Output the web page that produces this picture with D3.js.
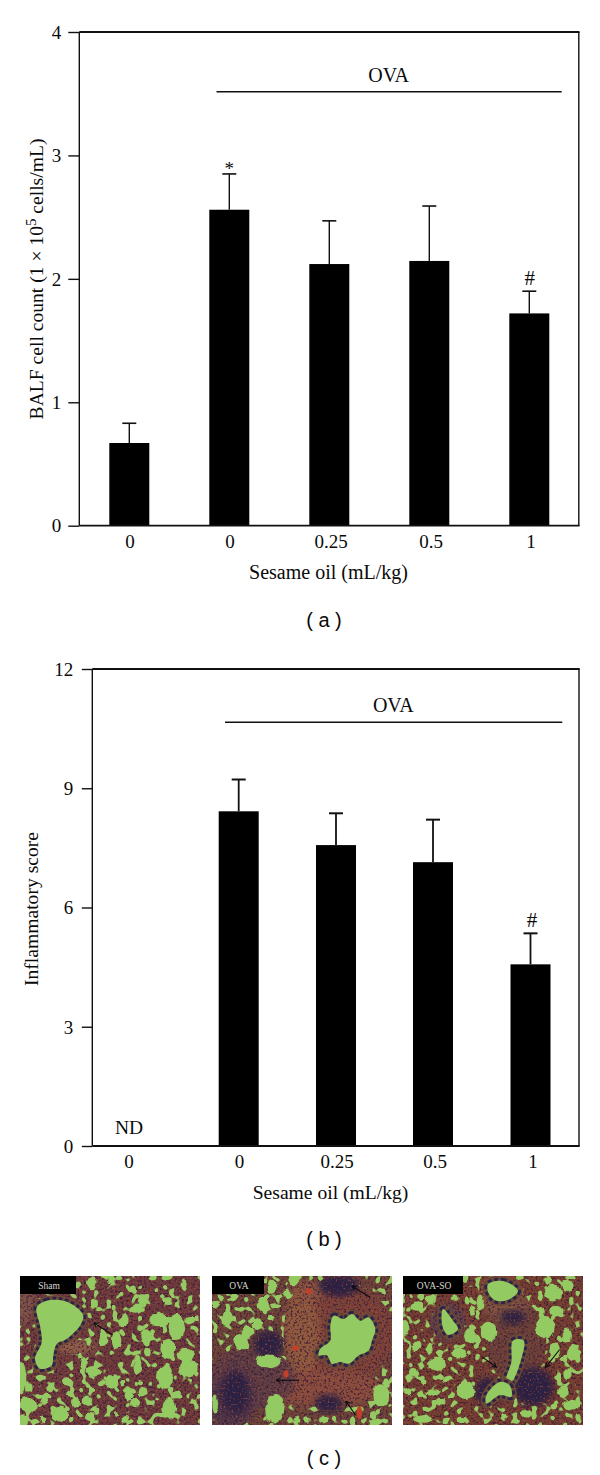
<!DOCTYPE html>
<html><head><meta charset="utf-8">
<script src="https://cdnjs.cloudflare.com/ajax/libs/d3/7.8.5/d3.min.js"></script>
<style>html,body{margin:0;padding:0;background:#fff}svg{display:block}text{font-family:"Liberation Serif",serif;fill:#0a0a0a}</style>
</head><body><svg id="c" width="600" height="1475"></svg>
<script>
// ---- chart data ----
const categories = ["0", "0", "0.25", "0.5", "1"];
const balfValues = [0.67, 2.56, 2.12, 2.145, 1.72];
const balfErrors = [0.16, 0.29, 0.35, 0.445, 0.18];
const balfMarks = ["", "*", "", "", "#"];
const balfTicks = [0, 1, 2, 3, 4];
const scoreValues = [null, 8.42, 7.57, 7.14, 4.57];
const scoreErrors = [null, 0.80, 0.80, 1.07, 0.78];
const scoreMarks = ["ND", "", "", "", "#"];
const scoreTicks = [0, 3, 6, 9, 12];
const groupLabel = "OVA";
const xTitle = "Sesame oil (mL/kg)";
const scoreTitle = "Inflammatory score";
const photoLabels = ["Sham", "OVA", "OVA-SO"];
// ---- micrograph features (in a 540x450 crop space) ----
const shamPores = [[215,22,14,18],[275,10,10,10],[398,5,12,8],[340,40,8,14],[222,85,12,14],[282,97,8,10],[350,100,22,14],[368,75,14,18],[312,135,14,20],[420,132,32,20],[470,155,24,38],[510,135,14,14],[380,185,16,22],[445,220,24,30],[498,240,24,20],[505,280,28,24],[435,305,24,38],[290,195,14,28],[250,190,12,18],[382,230,10,16],[190,265,10,20],[218,290,22,18],[275,318,18,22],[142,320,14,14],[90,335,8,16],[25,390,26,22],[72,378,12,14],[120,418,24,24],[165,380,12,18],[203,375,10,14],[212,428,14,14],[230,410,8,12],[325,360,14,16],[345,385,12,14],[368,350,12,14],[358,322,8,8],[448,400,24,32],[315,430,10,10],[5,310,14,48],[12,435,14,14],[70,432,8,10],[28,338,10,14],[205,330,8,8],[150,355,8,8],[250,320,8,8],[352,268,12,28],[310,325,8,8],[470,355,10,8],[520,378,8,8],[492,30,8,8],[443,72,12,8],[472,88,8,10],[285,420,6,6],[412,370,6,6],[180,240,6,8],[210,200,8,10]];
const ovaPores = [[245,12,16,16],[180,32,16,22],[155,85,18,24],[108,170,16,20],[85,198,20,26],[135,145,16,18],[45,130,18,20],[15,85,12,10],[60,70,14,8],[225,55,12,14],[190,90,14,8],[175,125,10,8],[170,258,36,18],[188,400,26,46],[508,360,24,36],[485,420,8,12],[335,435,14,10],[255,432,10,8],[490,440,20,10],[525,325,8,12],[8,385,10,30],[285,435,8,8],[400,440,10,6]];
const soPores = [[450,50,24,24],[492,30,20,18],[435,15,14,12],[460,105,22,14],[425,155,30,32],[490,180,14,24],[455,225,16,24],[510,235,18,22],[495,295,14,16],[480,350,14,22],[505,390,24,16],[450,390,10,10],[415,110,10,20],[200,180,20,22],[258,168,22,30],[5,160,14,24],[42,92,20,16],[85,70,14,12],[160,65,10,10],[230,80,12,24],[208,108,10,14],[190,75,8,14],[80,220,12,18],[38,210,14,14],[170,232,22,16],[102,265,24,22],[30,290,12,12],[188,345,24,26],[90,352,20,10],[115,378,12,10],[60,430,26,16],[175,435,14,10],[130,435,10,10],[15,350,12,10],[50,358,8,8],[370,415,14,12],[305,425,10,8],[525,430,8,10],[130,310,10,10],[65,320,8,10],[220,210,8,10],[15,100,8,8]];
const shamAirways = [[[50,95],[80,75],[130,75],[170,95],[190,120],[180,150],[140,190],[110,205],[100,240],[95,270],[60,280],[45,250],[65,200],[60,150]]];
const ovaAirways = [[[355,150],[365,120],[395,130],[420,115],[445,135],[470,125],[490,160],[480,195],[470,225],[440,240],[410,265],[385,260],[360,265],[345,240],[320,240],[325,220],[355,195]]];
const soAirways = [[[255,25],[300,15],[345,45],[320,70],[280,75],[258,55]],[[120,100],[150,135],[165,160],[135,178],[118,150]],[[330,195],[362,195],[355,250],[325,320],[310,315],[325,260]],[[290,320],[320,330],[325,365],[290,360],[250,385],[250,360]]];
const shamTissue = [[5,60,40,90,"#7d5248"],[170,215,60,22,"#8f6048"]];
const ovaTissue = [[380,175,165,155,"#7c4238"],[270,180,55,140,"#8f5a3e"],[330,340,190,55,"#8a4e3c"],[120,310,130,90,"#5e3c45"],[60,380,70,80,"#50364a"],[290,45,50,30,"#8e5740"]];
const soTissue = [[340,200,90,125,"#6a4138"],[310,90,70,50,"#7a5040"],[290,45,62,45,"#8c5a3e"],[135,140,50,55,"#58404e"]];
const ovaDark = [[170,205,45,40],[70,350,42,65],[350,385,42,28],[380,30,62,32]];
const soDark = [[390,335,62,58],[255,350,40,42],[330,125,38,22]];
const shamArrows = [[278,178,222,142]];
const ovaArrows = [[475,65,420,30],[260,315,193,315],[430,420,402,378]];
const soArrows = [[238,245,280,275],[470,222,428,275]];
const redSpots = [[290,46,9,9],[222,296,8,11],[442,412,8,20],[250,218,10,8]];

const svg = d3.select("#c");
const defs = svg.append("defs");

function panel(o){
  const y = d3.scaleLinear().domain(o.yDomain).range([o.bottom, o.top]);
  const x = d3.scaleOrdinal().domain(d3.range(categories.length)).range(o.centers);
  const g = svg.append("g");
  g.append("line").attr("x1",o.right).attr("x2",o.right).attr("y1",o.top).attr("y2",o.bottom).attr("stroke","#111").attr("stroke-width",1.4);
  const w = 40;
  o.values.forEach((v,i)=>{
    if(v===null) return;
    const cx = x(i), top = y(v+o.errors[i]);
    g.append("rect").attr("x",cx-w/2).attr("width",w).attr("y",y(v)).attr("height",o.bottom-y(v)).attr("fill","#000");
    g.append("line").attr("x1",cx).attr("x2",cx).attr("y1",top).attr("y2",y(v)).attr("stroke","#111").attr("stroke-width",o.stem);
    g.append("line").attr("x1",cx-7).attr("x2",cx+7).attr("y1",top).attr("y2",top).attr("stroke","#111").attr("stroke-width",o.cap);
  });
  const ax = g.append("g").attr("transform",`translate(${o.left},0)`).call(d3.axisLeft(y).tickValues(o.ticks).tickFormat(d3.format("d")).tickSize(o.tick).tickPadding(6));
  ax.select(".domain").attr("d",`M0,${o.top}V${o.bottom}`).attr("stroke","#111").attr("stroke-width",1.4);
  ax.selectAll(".tick line").attr("stroke","#111").attr("stroke-width",1.4);
  ax.selectAll(".tick text").attr("font-size",o.fy).attr("font-family","Liberation Serif").attr("fill","#0a0a0a").attr("x",-o.gap).attr("dy","0.33em");
  [o.top,o.bottom].forEach((yy,k)=>g.append("line").attr("x1",o.left).attr("x2",o.right+0.7).attr("y1",yy).attr("y2",yy).attr("stroke","#111").attr("stroke-width",k?1.8:2));
  categories.forEach((c,i)=>g.append("text").attr("x",o.labelX[i]).attr("y",o.xBase).attr("text-anchor","middle").attr("font-size",o.fx).text(c));
  g.append("text").attr("x",o.titleX).attr("y",o.titleBase).attr("text-anchor","middle").attr("font-size",o.ft).text(xTitle);
  g.append("line").attr("x1",o.ovaX[0]).attr("x2",o.ovaX[1]).attr("y1",o.ovaY).attr("y2",o.ovaY).attr("stroke","#111").attr("stroke-width",1.6);
  g.append("text").attr("x",o.ovaText).attr("y",o.ovaY-10).attr("text-anchor","middle").attr("font-size",o.fo).text(groupLabel);
  o.marks.forEach((m,i)=>{
    if(!m) return;
    const base = m==="ND" ? o.bottom-12 : y(o.values[i]+o.errors[i]) + (m==="*"?1:-6);
    g.append("text").attr("x",x(i)+(m==="#"?o.hashDx:0)).attr("y",base).attr("text-anchor","middle").attr("font-size",m==="ND"?19.5:m==="#"?21:19).text(m);
  });
  g.append("text").attr("x",324).attr("y",o.capBase).attr("text-anchor","middle").attr("font-size",20).style("font-family","'Liberation Sans',sans-serif").text(o.caption);
  return g;
}

const a = panel({values:balfValues,errors:balfErrors,marks:balfMarks,ticks:balfTicks,yDomain:[0,4],
  top:32,bottom:525.7,left:79.3,right:578.8,tick:11,gap:18,centers:[129.3,229.3,329.3,429.3,529.3],labelX:[130,230,331,431,531],
  xBase:548,titleX:328.5,titleBase:579,ovaX:[216.5,561.7],ovaY:91.7,ovaText:388.7,stem:1.4,cap:1.6,hashDx:0.5,
  fx:19,fy:19,ft:20,fo:20,capBase:627,caption:"( a )"});
const b = panel({values:scoreValues,errors:scoreErrors,marks:scoreMarks,ticks:scoreTicks,yDomain:[0,12],
  top:669,bottom:1146,left:92.3,right:579,tick:10.5,gap:19,centers:[129,238.7,336,433,530.5],labelX:[129,239.5,337,435,533],
  xBase:1168,titleX:330.5,titleBase:1199,ovaX:[225,562.3],ovaY:722.3,ovaText:393.3,stem:1.8,cap:2,hashDx:1.5,
  fx:19,fy:19,ft:19.6,fo:20,capBase:1246,caption:"( b )"});

const yTitleA = a.append("text").attr("transform","translate(43,279) rotate(-90)").attr("text-anchor","middle").attr("font-size",19.6);
yTitleA.append("tspan").text("BALF cell count (1 × 10");
yTitleA.append("tspan").attr("dy",-7).attr("font-size",15).text("5");
yTitleA.append("tspan").attr("dy",7).text(" cells/mL)");
b.append("text").attr("transform","translate(38,909) rotate(-90)").attr("text-anchor","middle").attr("font-size",19.6).text(scoreTitle);

// ---- micrographs ----
function noiseFilter(id,freq,seed,rgb,k,off,oct){
  const f = defs.append("filter").attr("id",id).attr("x",0).attr("y",0).attr("width",1).attr("height",1).attr("color-interpolation-filters","sRGB");
  f.append("feTurbulence").attr("type","fractalNoise").attr("baseFrequency",freq).attr("numOctaves",oct).attr("seed",seed);
  f.append("feColorMatrix").attr("type","matrix").attr("values",`0 0 0 0 ${rgb[0]} 0 0 0 0 ${rgb[1]} 0 0 0 0 ${rgb[2]} ${k} 0 0 0 ${off}`);
}
defs.append("filter").attr("id","soft").append("feGaussianBlur").attr("stdDeviation",0.6);
defs.append("filter").attr("id","patch").append("feGaussianBlur").attr("stdDeviation",3);
const rough = defs.append("filter").attr("id","rough").attr("x","-5%").attr("y","-5%").attr("width","110%").attr("height","110%");
rough.append("feTurbulence").attr("type","fractalNoise").attr("baseFrequency",0.1).attr("numOctaves",2).attr("seed",5).attr("result","n");
rough.append("feDisplacementMap").attr("in","SourceGraphic").attr("in2","n").attr("scale",6).attr("xChannelSelector","R").attr("yChannelSelector","G");
defs.append("marker").attr("id","head").attr("viewBox","0 0 10 10").attr("refX",9).attr("refY",5).attr("markerWidth",6).attr("markerHeight",6).attr("markerUnits","userSpaceOnUse").attr("orient","auto")
  .append("path").attr("d","M2,1L9,5L2,9").attr("fill","none").attr("stroke","#0c0c10").attr("stroke-width",1.8);

function photo(o,idx){
  const sx = d3.scaleLinear().domain([0,540]).range([o.x,o.x+180]);
  const sy = d3.scaleLinear().domain([0,450]).range([1276,1425]);
  const cid = "clip"+idx;
  defs.append("clipPath").attr("id",cid).append("rect").attr("x",o.x).attr("y",1276).attr("width",180).attr("height",149);
  const g = svg.append("g").attr("clip-path",`url(#${cid})`);
  const s = g.append("g").attr("filter","url(#soft)");
  const full = (p)=>p.append("rect").attr("x",o.x-6).attr("y",1270).attr("width",192).attr("height",161);
  full(s).attr("fill",o.base);
  o.tissue.forEach(t=>s.append("ellipse").attr("cx",sx(t[0])).attr("cy",sy(t[1])).attr("rx",t[2]/3).attr("ry",t[3]/3).attr("fill",t[4]).attr("filter","url(#patch)"));
  (o.dark||[]).forEach(d=>s.append("ellipse").attr("cx",sx(d[0])).attr("cy",sy(d[1])).attr("rx",d[2]/3).attr("ry",d[3]/3).attr("fill","#2a2045").attr("filter","url(#patch)"));
  // fine stain texture
  noiseFilter("grain"+idx,0.45,idx+11,[.22,.11,.22],6,-3.1,2);
  full(s).attr("filter",`url(#grain${idx})`).attr("opacity",.75);
  noiseFilter("fleck"+idx,0.5,idx+23,[.66,.32,.22],6,-3.5,1);
  full(s).attr("filter",`url(#fleck${idx})`).attr("opacity",.6);
  // small alveolar gaps, kept out of the solid tissue areas by the tissue mask
  const maskId = "mask"+idx;
  const m = defs.append("mask").attr("id",maskId).attr("maskUnits","userSpaceOnUse").attr("x",o.x-6).attr("y",1270).attr("width",192).attr("height",161);
  m.append("rect").attr("x",o.x-6).attr("y",1270).attr("width",192).attr("height",161).attr("fill","#fff");
  o.tissue.concat((o.dark||[]).map(d=>[...d,"#000"])).forEach(t=>m.append("ellipse").attr("cx",sx(t[0])).attr("cy",sy(t[1])).attr("rx",t[2]/3).attr("ry",t[3]/3).attr("fill","#000"));
  noiseFilter("pore"+idx,0.16,idx*7+3,[.58,.79,.39],14,-7.9,1);
  const porePane = s.append("g").attr("mask",`url(#${maskId})`);
  full(porePane).attr("filter",`url(#pore${idx})`);
  const shapes = s.append("g").attr("filter","url(#rough)");
  const blob = (p,fill,parent)=>parent.append("ellipse").attr("cx",sx(p[0])).attr("cy",sy(p[1])).attr("rx",p[2]/3).attr("ry",p[3]/3).attr("fill",fill);
  o.pores.forEach(p=>blob(p,"#93ca62",shapes));
  (o.red||[]).forEach(r=>blob(r,"#c2402a",s));
  const line = d3.line().x(d=>sx(d[0])).y(d=>sy(d[1])).curve(d3.curveCatmullRomClosed);
  o.airways.forEach(p=>{
    s.append("path").attr("d",line(p)).attr("fill","none").attr("stroke","#6a4a38").attr("stroke-width",9);
    s.append("path").attr("d",line(p)).attr("fill","none").attr("stroke","#2e2148").attr("stroke-width",6).attr("stroke-dasharray","3.5 2.5");
    s.append("path").attr("d",line(p)).attr("fill","#93ca62");
  });
  o.arrows.forEach(r=>g.append("line").attr("x1",sx(r[0])).attr("y1",sy(r[1])).attr("x2",sx(r[2])).attr("y2",sy(r[3])).attr("stroke","#0c0c10").attr("stroke-width",1.1).attr("marker-end","url(#head)"));
  g.append("rect").attr("x",o.x).attr("y",1276).attr("width",o.lw).attr("height",18).attr("fill","#000");
  g.append("text").attr("x",o.x+o.lx).attr("y",1288.5).attr("text-anchor","middle").attr("font-size",9.5).style("fill","#d8d8d0").text(photoLabels[idx]);
}
photo({x:20,base:"#6e3a3c",pores:shamPores,airways:shamAirways,tissue:shamTissue,arrows:shamArrows,lw:56,lx:29},0);
photo({x:212,base:"#6b4238",pores:ovaPores,airways:ovaAirways,tissue:ovaTissue,dark:ovaDark,arrows:ovaArrows,red:redSpots,lw:52,lx:27},1);
photo({x:403,base:"#733c30",pores:soPores,airways:soAirways,tissue:soTissue,dark:soDark,arrows:soArrows,lw:60,lx:31},2);
svg.append("text").attr("x",324).attr("y",1465).attr("text-anchor","middle").attr("font-size",20).style("font-family","'Liberation Sans',sans-serif").text("( c )");
</script></body></html>
